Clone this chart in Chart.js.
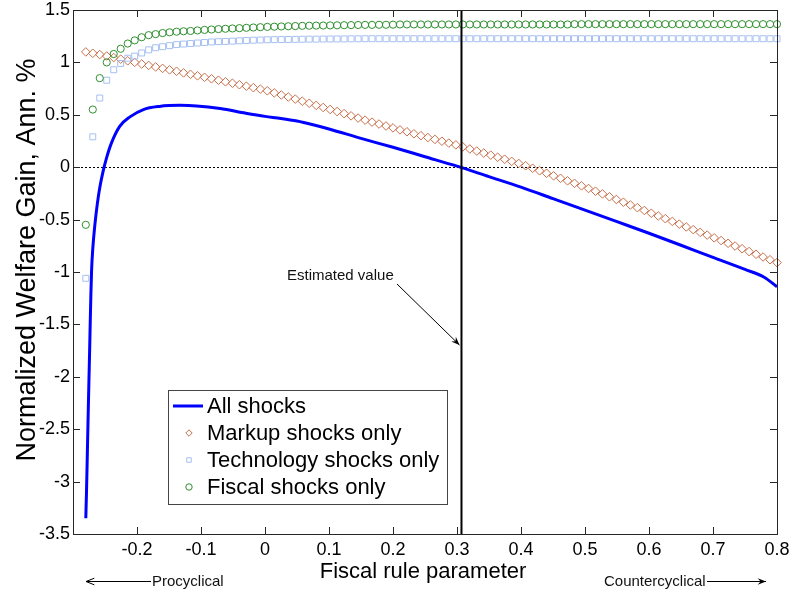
<!DOCTYPE html>
<html>
<head>
<meta charset="utf-8">
<script src="https://cdn.jsdelivr.net/npm/chart.js@4"></script>
<style>
  body { margin: 0; background: #fff; }
  #wrap { width: 791px; height: 595px; }
</style>
</head>
<body>
<div id="wrap"><canvas id="welfare" width="791" height="595"></canvas></div>
<script>
// --- DATA ---
const xValues = [
  -0.2800, -0.2691, -0.2582, -0.2473, -0.2364, -0.2255, -0.2145, -0.2036, -0.1927, -0.1818,
  -0.1709, -0.1600, -0.1491, -0.1382, -0.1273, -0.1164, -0.1055, -0.0945, -0.0836, -0.0727,
  -0.0618, -0.0509, -0.0400, -0.0291, -0.0182, -0.0073, 0.0036, 0.0145, 0.0255, 0.0364,
  0.0473, 0.0582, 0.0691, 0.0800, 0.0909, 0.1018, 0.1127, 0.1236, 0.1345, 0.1455,
  0.1564, 0.1673, 0.1782, 0.1891, 0.2000, 0.2109, 0.2218, 0.2327, 0.2436, 0.2545,
  0.2655, 0.2764, 0.2873, 0.2982, 0.3091, 0.3200, 0.3309, 0.3418, 0.3527, 0.3636,
  0.3745, 0.3855, 0.3964, 0.4073, 0.4182, 0.4291, 0.4400, 0.4509, 0.4618, 0.4727,
  0.4836, 0.4945, 0.5055, 0.5164, 0.5273, 0.5382, 0.5491, 0.5600, 0.5709, 0.5818,
  0.5927, 0.6036, 0.6145, 0.6255, 0.6364, 0.6473, 0.6582, 0.6691, 0.6800, 0.6909,
  0.7018, 0.7127, 0.7236, 0.7345, 0.7455, 0.7564, 0.7673, 0.7782, 0.7891, 0.8000
];
const markupValues = [
  1.100, 1.087, 1.075, 1.061, 1.046, 1.031, 1.015, 1.000, 0.985, 0.971,
  0.957, 0.943, 0.929, 0.915, 0.900, 0.886, 0.872, 0.858, 0.844, 0.830,
  0.815, 0.801, 0.787, 0.773, 0.759, 0.745, 0.729, 0.709, 0.689, 0.670,
  0.650, 0.630, 0.610, 0.590, 0.570, 0.551, 0.531, 0.511, 0.490, 0.469,
  0.449, 0.430, 0.412, 0.393, 0.375, 0.356, 0.338, 0.319, 0.301, 0.283,
  0.265, 0.248, 0.230, 0.213, 0.194, 0.174, 0.154, 0.135, 0.115, 0.095,
  0.076, 0.056, 0.036, 0.014, -0.010, -0.034, -0.058, -0.082, -0.106, -0.130,
  -0.154, -0.178, -0.203, -0.229, -0.255, -0.282, -0.308, -0.334, -0.360, -0.386,
  -0.413, -0.439, -0.465, -0.491, -0.517, -0.543, -0.570, -0.596, -0.622, -0.648,
  -0.674, -0.700, -0.726, -0.752, -0.778, -0.805, -0.831, -0.857, -0.883, -0.910
];
const techValues = [
  -1.06, 0.29, 0.66, 0.83, 0.93, 0.99, 1.04, 1.06, 1.09, 1.12,
  1.14, 1.15, 1.16, 1.17, 1.175, 1.18, 1.185, 1.19, 1.195, 1.198,
  1.200, 1.203, 1.206, 1.209, 1.212, 1.214, 1.216, 1.217, 1.218, 1.219,
  1.220, 1.221, 1.222, 1.222, 1.223, 1.223, 1.224, 1.224, 1.225, 1.225,
  1.226, 1.226, 1.226, 1.226, 1.226, 1.226, 1.226, 1.226, 1.226, 1.226,
  1.226, 1.226, 1.226, 1.226, 1.226, 1.226, 1.226, 1.226, 1.226, 1.226,
  1.226, 1.226, 1.226, 1.226, 1.226, 1.226, 1.226, 1.226, 1.226, 1.226,
  1.226, 1.226, 1.226, 1.226, 1.226, 1.226, 1.226, 1.226, 1.226, 1.226,
  1.226, 1.226, 1.226, 1.226, 1.226, 1.226, 1.226, 1.226, 1.226, 1.226,
  1.226, 1.226, 1.226, 1.226, 1.226, 1.226, 1.226, 1.226, 1.226, 1.226
];
const fiscalValues = [
  -0.55, 0.55, 0.85, 1.00, 1.08, 1.13, 1.18, 1.21, 1.24, 1.26,
  1.270, 1.280, 1.287, 1.293, 1.297, 1.300, 1.305, 1.310, 1.314, 1.318,
  1.321, 1.324, 1.327, 1.330, 1.333, 1.336, 1.339, 1.341, 1.343, 1.345,
  1.347, 1.349, 1.350, 1.351, 1.352, 1.353, 1.354, 1.355, 1.356, 1.357,
  1.358, 1.358, 1.359, 1.359, 1.360, 1.362, 1.362, 1.362, 1.362, 1.362,
  1.362, 1.362, 1.362, 1.362, 1.362, 1.362, 1.362, 1.362, 1.362, 1.362,
  1.362, 1.362, 1.362, 1.362, 1.362, 1.362, 1.362, 1.362, 1.362, 1.362,
  1.365, 1.365, 1.365, 1.365, 1.365, 1.365, 1.365, 1.365, 1.365, 1.365,
  1.365, 1.365, 1.365, 1.365, 1.365, 1.365, 1.365, 1.365, 1.365, 1.365,
  1.365, 1.365, 1.365, 1.365, 1.365, 1.365, 1.365, 1.365, 1.365, 1.365
];
// all shocks line, sampled finer where it climbs
const allShocksX = [
  -0.280, -0.279, -0.278, -0.277, -0.276, -0.275, -0.274, -0.273, -0.272, -0.271,
  -0.269, -0.266, -0.262, -0.258, -0.253, -0.248, -0.240, -0.227, -0.211, -0.190,
  -0.165, -0.133, -0.107, -0.070, -0.030, 0.000, 0.025, 0.050, 0.075, 0.100,
  0.150, 0.200, 0.250, 0.300, 0.350, 0.400, 0.450, 0.500, 0.550, 0.600,
  0.650, 0.700, 0.750, 0.780, 0.800
];
const allShocksValues = [
  -3.35, -3.12, -2.85, -2.56, -2.28, -2.01, -1.75, -1.46, -1.20, -0.99,
  -0.77, -0.56, -0.35, -0.19, -0.04, 0.08, 0.23, 0.39, 0.48, 0.55,
  0.58, 0.59, 0.585, 0.56, 0.515, 0.485, 0.465, 0.44, 0.405, 0.365,
  0.275, 0.19, 0.10, 0.01, -0.09, -0.19, -0.30, -0.41, -0.52, -0.63,
  -0.745, -0.86, -0.975, -1.05, -1.14
];
const seriesLabels = ['All shocks', 'Markup shocks only', 'Technology shocks only', 'Fiscal shocks only'];
const xTickValues = [-0.2, -0.1, 0, 0.1, 0.2, 0.3, 0.4, 0.5, 0.6, 0.7, 0.8];
const xTickLabels = ['-0.2', '-0.1', '0', '0.1', '0.2', '0.3', '0.4', '0.5', '0.6', '0.7', '0.8'];
const yTickValues = [-3.5, -3, -2.5, -2, -1.5, -1, -0.5, 0, 0.5, 1, 1.5];
const yTickLabels = ['-3.5', '-3', '-2.5', '-2', '-1.5', '-1', '-0.5', '0', '0.5', '1', '1.5'];
const estimatedValue = 0.307;

const FONT = 'Arial, "Liberation Sans", sans-serif';
const zip = (xs, ys) => xs.map((x, i) => ({ x: x, y: ys[i] }));

// --- DECORATIONS: box, inward ticks, reference lines, notes, legend ---
const decor = {
  id: 'decor',
  beforeDatasetsDraw(chart) {
    const { ctx, chartArea: a, scales: { y } } = chart;
    const y0 = Math.round(y.getPixelForValue(0)) + 0.5;
    ctx.save();
    ctx.strokeStyle = '#000';
    ctx.lineWidth = 1;
    ctx.setLineDash([2, 2]);
    ctx.beginPath(); ctx.moveTo(a.left, y0); ctx.lineTo(a.right, y0); ctx.stroke();
    ctx.restore();
  },
  afterDatasetsDraw(chart) {
    const { ctx, chartArea: a, scales: { x, y } } = chart;
    ctx.save();

    // estimated value line
    const xe = x.getPixelForValue(estimatedValue);
    ctx.strokeStyle = '#000';
    ctx.lineWidth = 2;
    ctx.beginPath(); ctx.moveTo(xe, a.top); ctx.lineTo(xe, a.bottom); ctx.stroke();

    // box and ticks
    ctx.strokeStyle = '#262626';
    ctx.lineWidth = 1;
    ctx.strokeRect(Math.round(a.left) + 0.5, Math.round(a.top) + 0.5, Math.round(a.right - a.left), Math.round(a.bottom - a.top));
    ctx.beginPath();
    xTickValues.forEach(v => {
      const px = Math.round(x.getPixelForValue(v)) + 0.5;
      ctx.moveTo(px, a.bottom); ctx.lineTo(px, a.bottom - 7);
      ctx.moveTo(px, a.top); ctx.lineTo(px, a.top + 7);
    });
    yTickValues.forEach(v => {
      const py = Math.round(y.getPixelForValue(v)) + 0.5;
      ctx.moveTo(a.left, py); ctx.lineTo(a.left + 7, py);
      ctx.moveTo(a.right, py); ctx.lineTo(a.right - 7, py);
    });
    ctx.stroke();

    // annotation
    ctx.fillStyle = '#111';
    ctx.font = '15px ' + FONT;
    ctx.textBaseline = 'alphabetic';
    ctx.textAlign = 'left';
    ctx.fillText('Estimated value', 287, 280);
    arrow(ctx, 397, 284, xe - 2, 345, true);

    // axis titles
    ctx.fillStyle = '#000';
    ctx.font = '22px ' + FONT;
    ctx.textAlign = 'center';
    ctx.fillText('Fiscal rule parameter', 423, 578);
    ctx.save();
    ctx.font = '27px ' + FONT;
    ctx.translate(35, 260);
    ctx.rotate(-Math.PI / 2);
    ctx.fillText('Normalized Welfare Gain, Ann. %', 0, 0);
    ctx.restore();

    // direction notes under the axis
    ctx.font = '15px ' + FONT;
    ctx.textBaseline = 'middle';
    ctx.textAlign = 'left';
    ctx.fillStyle = '#111';
    ctx.fillText('Procyclical', 152, 582);
    ctx.fillText('Countercyclical', 604, 582);
    ctx.lineWidth = 1;
    arrow(ctx, 151, 581.5, 86, 581.5, false);
    arrow(ctx, 707, 581.5, 766, 581.5, true);

    // legend
    const ds = chart.data.datasets;
    ctx.fillStyle = '#fff';
    ctx.fillRect(168.5, 390.5, 279, 114);
    ctx.strokeStyle = '#444';
    ctx.lineWidth = 1;
    ctx.strokeRect(168.5, 390.5, 279, 114);
    const rows = [406, 433, 460, 487];
    ds.forEach((d, i) => {
      const ry = rows[i];
      if (d.showLine) {
        ctx.strokeStyle = d.borderColor;
        ctx.lineWidth = 3;
        ctx.beginPath(); ctx.moveTo(173, ry); ctx.lineTo(203, ry); ctx.stroke();
      } else {
        ctx.strokeStyle = d.borderColor;
        ctx.fillStyle = 'rgba(0,0,0,0)';
        ctx.lineWidth = 1;
        Chart.helpers.drawPoint(ctx, { pointStyle: d.pointStyle, radius: 3.2, rotation: 0, borderWidth: 1 }, 189, ry);
      }
      ctx.fillStyle = '#000';
      ctx.font = '22px ' + FONT;
      ctx.textBaseline = 'middle';
      ctx.fillText(d.label, 207, ry + 1);
    });

    ctx.restore();
  }
};

function arrow(ctx, x1, y1, x2, y2, filled) {
  const ang = Math.atan2(y2 - y1, x2 - x1);
  const len = 9, half = 0.38;
  ctx.strokeStyle = '#000';
  ctx.fillStyle = '#000';
  ctx.lineWidth = 1;
  ctx.beginPath(); ctx.moveTo(x1, y1); ctx.lineTo(x2, y2); ctx.stroke();
  ctx.beginPath();
  ctx.moveTo(x2 - len * Math.cos(ang - half), y2 - len * Math.sin(ang - half));
  ctx.lineTo(x2, y2);
  ctx.lineTo(x2 - len * Math.cos(ang + half), y2 - len * Math.sin(ang + half));
  if (filled) {
    ctx.lineTo(x2 - 0.6 * len * Math.cos(ang), y2 - 0.6 * len * Math.sin(ang));
    ctx.closePath();
    ctx.fill();
  } else {
    ctx.stroke();
  }
}

// --- CHART ---
new Chart(document.getElementById('welfare'), {
  type: 'scatter',
  data: {
    datasets: [
      {
        label: seriesLabels[0],
        data: zip(allShocksX, allShocksValues),
        showLine: true,
        borderColor: '#0000ff',
        borderWidth: 3,
        pointRadius: 0,
        cubicInterpolationMode: 'monotone',
        order: 4
      },
      {
        label: seriesLabels[1],
        data: zip(xValues, markupValues),
        pointStyle: 'rectRot',
        pointRadius: 4.3,
        borderColor: '#c8704c',
        backgroundColor: 'rgba(0,0,0,0)',
        borderWidth: 1,
        clip: false,
        order: 3
      },
      {
        label: seriesLabels[2],
        data: zip(xValues, techValues),
        pointStyle: 'rect',
        pointRadius: 4.2,
        borderColor: '#a6c0f0',
        backgroundColor: 'rgba(0,0,0,0)',
        borderWidth: 1,
        clip: false,
        order: 2
      },
      {
        label: seriesLabels[3],
        data: zip(xValues, fiscalValues),
        pointStyle: 'circle',
        pointRadius: 3.6,
        borderColor: '#2f8f2f',
        backgroundColor: 'rgba(0,0,0,0)',
        borderWidth: 1,
        clip: false,
        order: 1
      }
    ]
  },
  options: {
    responsive: false,
    devicePixelRatio: 1,
    animation: false,
    layout: { padding: { top: 10, right: 14, left: 0, bottom: 0 } },
    plugins: { legend: { display: false }, tooltip: { enabled: false } },
    elements: { point: { hoverRadius: 0 } },
    scales: {
      x: {
        type: 'linear',
        min: -0.3,
        max: 0.8,
        afterBuildTicks: s => { s.ticks = xTickValues.map(v => ({ value: v })); },
        afterFit: s => { s.height = 61; s.paddingLeft = 0; s.paddingRight = 0; },
        grid: { display: false, drawTicks: false },
        border: { display: false },
        ticks: {
          autoSkip: false,
          maxRotation: 0,
          padding: 5,
          color: '#000',
          font: { family: FONT, size: 18 },
          callback: (v, i) => xTickLabels[i]
        }
      },
      y: {
        type: 'linear',
        min: -3.5,
        max: 1.5,
        afterBuildTicks: s => { s.ticks = yTickValues.map(v => ({ value: v })); },
        afterFit: s => { s.width = 73; s.paddingTop = 0; s.paddingBottom = 0; },
        grid: { display: false, drawTicks: false },
        border: { display: false },
        ticks: {
          autoSkip: false,
          padding: 3,
          color: '#000',
          font: { family: FONT, size: 18 },
          callback: (v, i) => yTickLabels[i]
        }
      }
    }
  },
  plugins: [decor]
});
</script>
</body>
</html>
